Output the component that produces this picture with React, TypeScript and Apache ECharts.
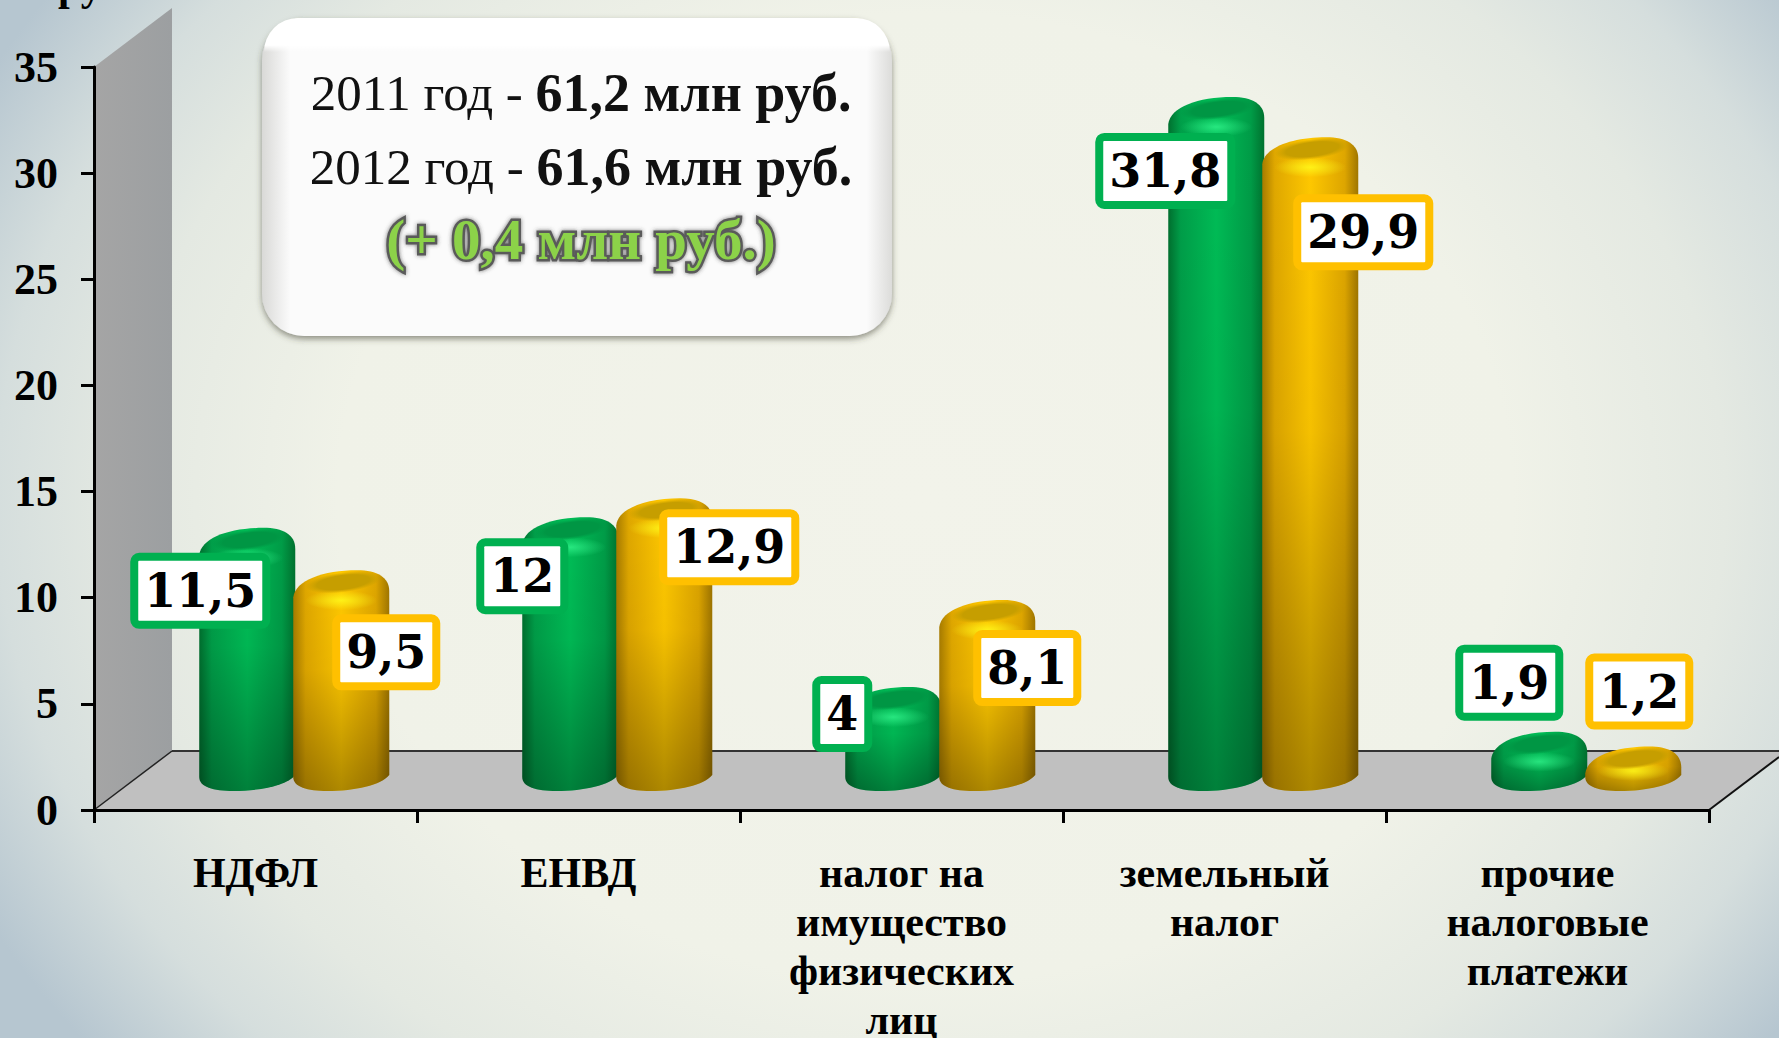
import React, { useEffect, useRef } from "react";
import * as echarts from "echarts";

const categories = ["НДФЛ", "ЕНВД", "налог на\nимущество\nфизических\nлиц", "земельный\nналог", "прочие\nналоговые\nплатежи"];
const values2011 = [11.5, 12, 4, 31.8, 1.9];
const values2012 = [9.5, 12.9, 8.1, 29.9, 1.2];
const yTicks = { min: 0, max: 35, interval: 5 };
const labelOffsets2011 = [[-47, 24], [-48, 20], [-51, -12], [-51, 35], [-30, -88]];
const labelOffsets2012 = [[45, 43], [65, 10], [40, 29], [53, 56], [6, -94]];

const SERIF = '"Liberation Serif", serif';
const LABEL_FONT = '"DejaVu Serif", serif';

const palette2011 = {
  border: "#00b050",
  stops: ["#00702f", "#009f49", "#00bd56", "#009c47", "#00722f"],
  cap: "rgba(0,150,68,1)",
  capFade: "rgba(0,150,68,0)",
  glow: "rgba(60,255,150,0.65)",
  glowFade: "rgba(60,255,150,0)",
};
const palette2012 = {
  border: "#ffc000",
  stops: ["#a87c00", "#e0a800", "#ffc800", "#dea600", "#a07600"],
  cap: "rgba(198,158,0,1)",
  capFade: "rgba(198,158,0,0)",
  glow: "rgba(255,255,30,0.75)",
  glowFade: "rgba(255,255,30,0)",
};

function makeRender(side: number, pal: typeof palette2011, offsets: number[][]) {
  return (params: any, api: any) => {
    const idx = api.value(0);
    const v = api.value(1);
    const catX = api.coord([idx, 0])[0];
    const y0 = api.coord([idx, 0])[1];
    const y = api.coord([idx, v])[1];
    const bw = api.size([1, 0])[0];
    const W = 96;
    const cx = catX + bw * 0.12 + side * 47;
    const u = cx - W / 2;
    const yt = y - 38;
    const yb = y0 - 19;
    const d =
      `M${u},${yt + 27} C${u + 2},${yt + 10} ${u + 30},${yt} ${u + 64},${yt} ` +
      `C${u + 84},${yt} ${u + 96},${yt + 7} ${u + 96},${yt + 21} ` +
      `L${u + 96},${yb - 16} C${u + 88},${yb - 6} ${u + 62},${yb} ${u + 34},${yb} ` +
      `C${u + 14},${yb} ${u},${yb - 4} ${u},${yb - 14} Z`;
    const h = yb - yt;
    const off = offsets[idx];
    return {
      type: "group",
      children: [
        {
          type: "path",
          shape: { pathData: d },
          style: {
            fill: {
              type: "linear", x: 0, y: 0, x2: 1, y2: 0,
              colorStops: pal.stops.map((c, i) => ({ offset: [0, 0.13, 0.5, 0.86, 1][i], color: c })),
            },
          },
        },
        {
          type: "path",
          shape: { pathData: d },
          style: {
            fill: {
              type: "linear", x: 0, y: 0, x2: 0, y2: 1,
              colorStops: [
                { offset: 0, color: "rgba(0,0,0,0)" },
                { offset: 0.45, color: "rgba(0,0,0,0.04)" },
                { offset: 1, color: "rgba(0,0,0,0.32)" },
              ],
            },
          },
        },
        {
          type: "ellipse",
          shape: { cx: u + 48, cy: yt + Math.min(30, h * 0.55), rx: 36, ry: 10 },
          style: {
            fill: {
              type: "radial", x: 0.5, y: 0.5, r: 0.5,
              colorStops: [
                { offset: 0, color: pal.glow },
                { offset: 1, color: pal.glowFade },
              ],
            },
          },
        },
        {
          type: "ellipse",
          x: u + 50,
          y: yt + 12,
          rotation: (7 * Math.PI) / 180,
          shape: { cx: 0, cy: 0, rx: 38, ry: 10 },
          style: {
            fill: {
              type: "radial", x: 0.5, y: 0.5, r: 0.5,
              colorStops: [
                { offset: 0, color: pal.cap },
                { offset: 0.7, color: pal.cap },
                { offset: 1, color: pal.capFade },
              ],
            },
          },
        },
        {
          type: "text",
          x: cx + off[0],
          y: y + off[1] + 1,
          z2: 50,
          style: {
            text: String(v).replace(".", ","),
            align: "center",
            verticalAlign: "middle",
            fontFamily: LABEL_FONT,
            fontWeight: "bold",
            fontSize: 46,
            lineHeight: 46,
            fill: "#000",
            backgroundColor: "#fff",
            borderColor: pal.border,
            borderWidth: 8,
            borderRadius: 1,
            padding: [9, 6, 5, 6],
          },
        },
      ],
    };
  };
}

const lineRich = {
  r: { fontFamily: SERIF, fontSize: 51, fill: "#111", lineHeight: 62 },
  b: { fontFamily: SERIF, fontSize: 54, fontWeight: "bold", fill: "#111", lineHeight: 62 },
};

export default function App() {
  const ref = useRef<HTMLDivElement>(null);
  useEffect(() => {
    document.body.style.margin = "0";
    document.body.style.overflow = "hidden";
    const chart = echarts.init(ref.current!, null, { renderer: "svg" });
    chart.setOption({
      animation: false,
      grid: { left: 94, right: 70, top: 67, bottom: 228, outerBoundsMode: "none" },
      xAxis: {
        type: "category",
        data: categories,
        z: 5,
        axisLine: { lineStyle: { color: "#000", width: 3 } },
        axisTick: { show: true, length: 13, lineStyle: { color: "#000", width: 3 } },
        axisLabel: {
          interval: 0, margin: 38, color: "#000", fontFamily: SERIF, fontWeight: "bold",
          fontSize: 42, lineHeight: 49, verticalAlign: "top",
        },
      },
      yAxis: {
        type: "value",
        min: yTicks.min,
        max: yTicks.max,
        interval: yTicks.interval,
        z: 5,
        splitLine: { show: false },
        axisLine: { show: true, lineStyle: { color: "#000", width: 3 } },
        axisTick: { show: true, length: 13, lineStyle: { color: "#000", width: 3 } },
        axisLabel: { margin: 36, color: "#000", fontFamily: SERIF, fontWeight: "bold", fontSize: 44 },
      },
      graphic: [
        { type: "polygon", z: -2, shape: { points: [[94, 67], [172, 8], [172, 751], [94, 810]] },
          style: { fill: { type: "linear", x: 0, y: 0, x2: 1, y2: 0, colorStops: [{ offset: 0, color: "#a5a5a5" }, { offset: 1, color: "#9c9fa1" }] } } },
        { type: "polygon", z: -2, shape: { points: [[94, 810], [172, 751], [1779, 751], [1779, 757], [1709, 810]] }, style: { fill: "#c0c0c0" } },
        { type: "line", z: -1, shape: { x1: 172, y1: 751, x2: 1779, y2: 751 }, style: { stroke: "#333", lineWidth: 2 } },
        { type: "line", z: -1, shape: { x1: 94, y1: 810, x2: 172, y2: 751 }, style: { stroke: "#222", lineWidth: 1.5 } },
        { type: "line", z: -1, shape: { x1: 1709, y1: 810, x2: 1779, y2: 757 }, style: { stroke: "#111", lineWidth: 2 } },
        { type: "text", x: 58, y: 7, style: { text: "руб.", fontFamily: SERIF, fontWeight: "bold", fontSize: 42, fill: "#000", verticalAlign: "bottom" } },
        { type: "rect", z: 10, shape: { x: 262, y: 18, width: 630, height: 318, r: 42 },
          style: {
            fill: { type: "linear", x: 0, y: 0, x2: 1, y2: 0, colorStops: [
              { offset: 0, color: "#d9d9d7" }, { offset: 0.045, color: "#fbfbfb" }, { offset: 0.96, color: "#fbfbfb" }, { offset: 1, color: "#dcdcda" } ] },
            shadowColor: "rgba(60,60,50,0.55)", shadowBlur: 6, shadowOffsetY: 3,
          } },
        { type: "rect", z: 10, shape: { x: 264, y: 18, width: 626, height: 34, r: [42, 42, 0, 0] }, style: {
            fill: { type: "linear", x: 0, y: 0, x2: 0, y2: 1, colorStops: [{ offset: 0, color: "#ffffff" }, { offset: 0.8, color: "#ffffff" }, { offset: 1, color: "rgba(255,255,255,0)" }] } } },
        { type: "text", z: 11, x: 581, y: 93, style: { text: "{r|2011 год - }{b|61,2 млн руб.}", rich: lineRich, align: "center", verticalAlign: "middle" } },
        { type: "text", z: 11, x: 581, y: 167, style: { text: "{r|2012 год - }{b|61,6 млн руб.}", rich: lineRich, align: "center", verticalAlign: "middle" } },
        { type: "text", z: 11, x: 581, y: 239, style: {
            text: "(+ 0,4 млн руб.)", align: "center", verticalAlign: "middle", fontFamily: SERIF, fontWeight: "bold", fontSize: 57,
            fill: "#8cd24a", stroke: "#5a5a5a", lineWidth: 5, textShadowColor: "rgba(60,60,60,0.7)", textShadowBlur: 4 } },
      ],
      series: [
        { type: "custom", name: "2011", renderItem: makeRender(-1, palette2011, labelOffsets2011), clip: false, z: 3,
          encode: { x: 0, y: 1 }, data: values2011.map((v, i) => [i, v]) },
        { type: "custom", name: "2012", renderItem: makeRender(1, palette2012, labelOffsets2012), clip: false, z: 4,
          encode: { x: 0, y: 1 }, data: values2012.map((v, i) => [i, v]) },
      ],
    });
    return () => chart.dispose();
  }, []);
  return (
    <div
      ref={ref}
      style={{
        width: 1779,
        height: 1038,
        background:
          "radial-gradient(ellipse 60% 85% at 52% 48%, #f2f3ea 0%, #f0f2e8 55%, #e4e9e2 75%, #d5dedd 87%, #b6c6d0 100%)",
      }}
    />
  );
}
